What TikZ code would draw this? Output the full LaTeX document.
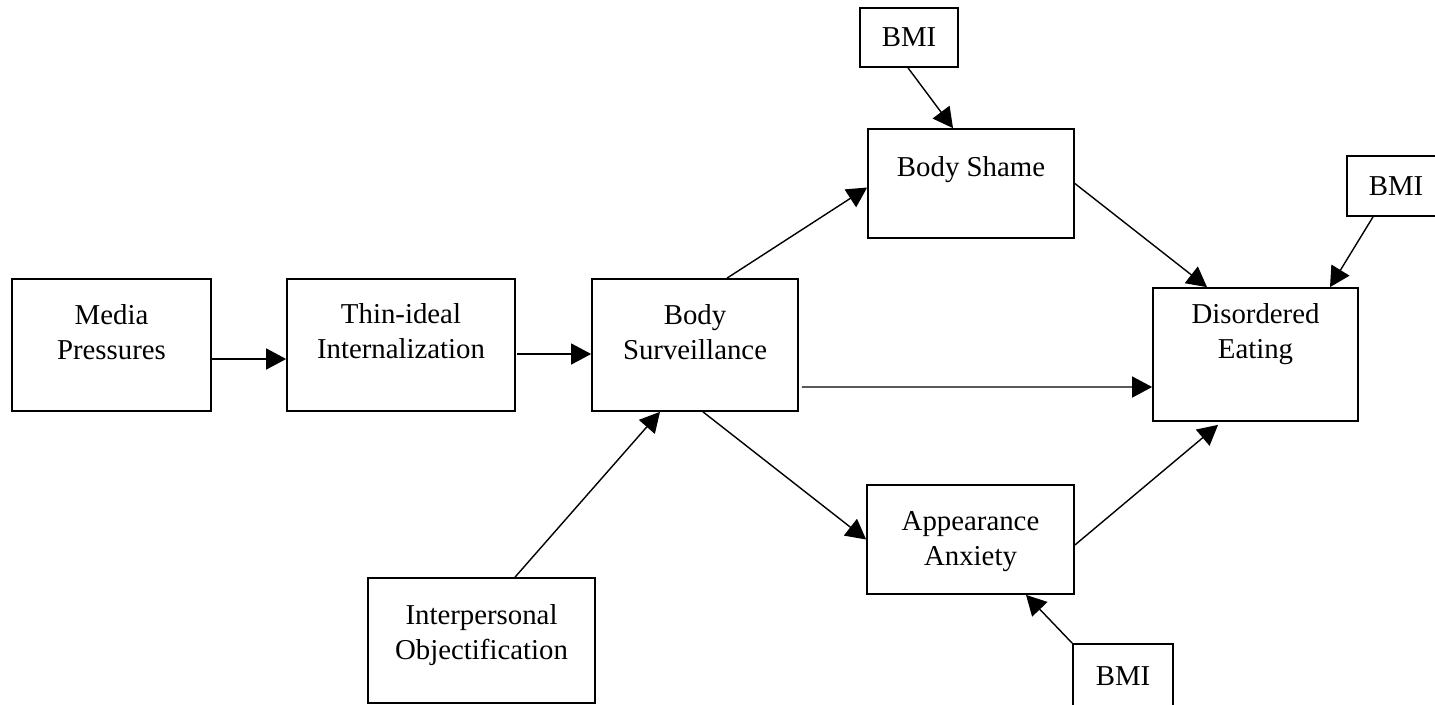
\documentclass[tikz,border=0pt]{standalone}
\usepackage{fontspec}
\setmainfont{Liberation Serif}
\usetikzlibrary{
    arrows.meta,
    calc
}
\tikzset {
    block/.style 2 args = {draw, line width = 1pt, inner sep = 0pt, minimum width = #1, minimum height = #2},
    box font/.style = {font = \fontsize{16.4pt}{19.9pt}\selectfont},
    box text/.style = {box font, anchor = north, align = center, inner sep = 0pt},
    %
    path arrow/.style = {
        line width = 0.8pt,
        -{Triangle[length = 0.4cm, width = 0.42cm]}
    }
}

\begin{document}
\begin{tikzpicture}[x = 0.02cm, y = -0.02cm]
            \useasboundingbox (0, 0) rectangle (1435, 704);
            \node (media) [block = {3.98cm}{2.64cm}, label = {[box text, yshift = -0.52cm]north:Media\\Pressures}] at (111.5, 345) {};
            \node (thin) [block = {4.56cm}{2.64cm}, label = {[box text, yshift = -0.5cm]north:Thin-ideal\\Internalization}] at (401, 345) {};
            \node (surv) [block = {4.12cm}{2.64cm}, label = {[box text, yshift = -0.52cm]north:Body\\Surveillance}] at (695, 345) {};
            \node (shame) [block = {4.12cm}{2.18cm}, label = {[box text, yshift = -0.56cm]north:Body Shame}] at (971, 183.5) {};
            \node (anxiety) [block = {4.14cm}{2.18cm}, label = {[box text, yshift = -0.54cm]north:Appearance\\Anxiety}] at (970.5, 539.5) {};
            \node (eating) [block = {4.1cm}{2.66cm}, label = {[box text, yshift = -0.32cm]north:Disordered\\Eating}] at (1255.5, 354.5) {};
            \node (objectif) [block = {4.54cm}{2.5cm}, label = {[box text, yshift = -0.54cm]north:Interpersonal\\Objectification}] at (481.5, 640.5) {};
            \node (bmitop) [block = {1.96cm}{1.18cm}, box font] at (909, 37.5) {BMI};
            \node (bmiright) [block = {1.96cm}{1.2cm}, box font] at (1396, 186) {BMI};
            \node (bmibottom) [block = {2cm}{1.3cm}, box font] at (1123, 676.5) {BMI};
            %
            \draw [path arrow] ($ (media.east) + (-2, 14) $) -- ($ (thin.west) + (0, 14) $);
            \draw [path arrow] ($ (thin.east) + (1, 9) $) -- ($ (surv.west) + (0, 9) $);
            \draw [path arrow] ($ (surv.north) + (32, 0) $) -- ($ (shame.west) + (0, 4) $);
            \draw [path arrow] ($ (surv.east) + (3, 42) $) -- ($ (eating.west) + (0, 32.5) $);
            \draw [path arrow] ($ (surv.south) + (8, 0) $) -- (anxiety.west);
            \draw [path arrow] ($ (objectif.north) + (33.5, 0) $) -- ($ (surv.south) + (-35, 0) $);
            \draw [path arrow] ($ (bmitop.south) + (-1, 0) $) -- ($ (shame.north) + (-18, 0) $);
            \draw [path arrow] (shame.east) -- ($ (eating.north) + (-48.5, 0) $);
            \draw [path arrow] ($ (bmiright.south) + (-23, 0) $) -- ($ (eating.north) + (74.5, 0) $);
            \draw [path arrow] ($ (anxiety.east) + (0, 5.5) $) -- ($ (eating.south) + (-37.5, 3) $);
            \draw [path arrow] (bmibottom.north west) -- ($ (anxiety.south) + (55.5, 0) $);
        \end{tikzpicture}
\end{document}
